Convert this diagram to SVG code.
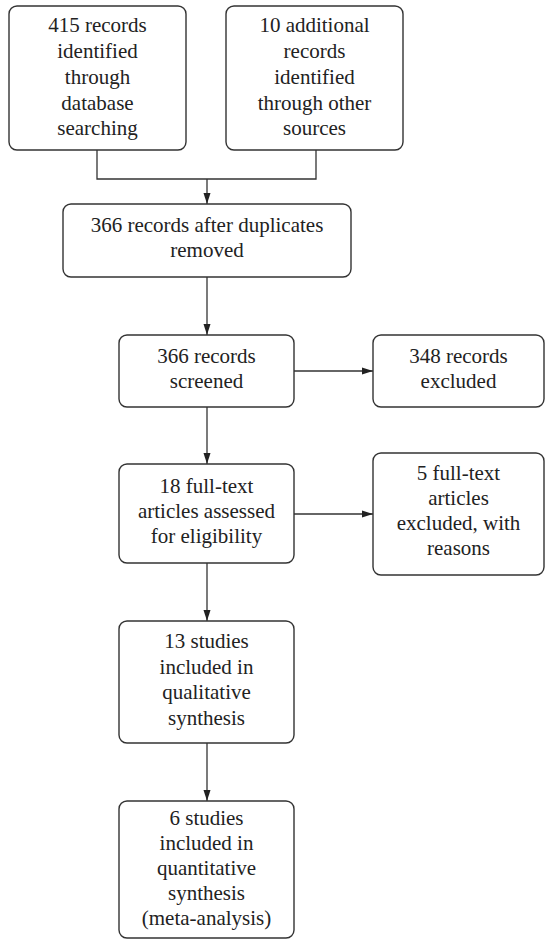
<svg xmlns="http://www.w3.org/2000/svg" width="545" height="940" viewBox="0 0 545 940">
<style>
.box{fill:#fff;stroke:#333;stroke-width:1.4}
.t{font-family:"Liberation Serif","Times New Roman",serif;font-size:21px;fill:#222;text-anchor:middle}
.c{fill:none;stroke:#333;stroke-width:1.3}
</style>
<defs>
<marker id="ah" markerUnits="userSpaceOnUse" markerWidth="12" markerHeight="8" refX="11" refY="4" orient="auto">
<path d="M0,0.5 L11,4 L0,7.5 z" fill="#222"/>
</marker>
</defs>
<rect width="545" height="940" fill="#fff"/>
<g id="connectors">
<polyline class="c" points="97,150 97,179 316,179 316,150"/>
<line class="c" x1="207" y1="179" x2="207" y2="204" marker-end="url(#ah)"/>
<line class="c" x1="207" y1="277" x2="207" y2="335" marker-end="url(#ah)"/>
<line class="c" x1="294" y1="371" x2="373" y2="371" marker-end="url(#ah)"/>
<line class="c" x1="207" y1="407" x2="207" y2="464" marker-end="url(#ah)"/>
<line class="c" x1="294" y1="514" x2="373" y2="514" marker-end="url(#ah)"/>
<line class="c" x1="207" y1="563" x2="207" y2="621" marker-end="url(#ah)"/>
<line class="c" x1="207" y1="743" x2="207" y2="801" marker-end="url(#ah)"/>
</g>
<g id="n1">
<rect class="box" x="9" y="6" width="177" height="144" rx="8"/>
<text class="t" x="97.5" y="32">415 records</text>
<text class="t" x="97.5" y="58">identified</text>
<text class="t" x="97.5" y="84">through</text>
<text class="t" x="97.5" y="110">database</text>
<text class="t" x="97.5" y="135">searching</text>
</g>
<g id="n2">
<rect class="box" x="226" y="6" width="177" height="144" rx="8"/>
<text class="t" x="314.5" y="32">10 additional</text>
<text class="t" x="314.5" y="58">records</text>
<text class="t" x="314.5" y="84">identified</text>
<text class="t" x="314.5" y="110">through other</text>
<text class="t" x="314.5" y="135">sources</text>
</g>
<g id="n3">
<rect class="box" x="63" y="204" width="288" height="73" rx="8"/>
<text class="t" x="207" y="232">366 records after duplicates</text>
<text class="t" x="207" y="257">removed</text>
</g>
<g id="n4">
<rect class="box" x="119" y="335" width="175" height="72" rx="8"/>
<text class="t" x="206.5" y="363">366 records</text>
<text class="t" x="206.5" y="388">screened</text>
</g>
<g id="n5">
<rect class="box" x="373" y="335" width="171" height="72" rx="8"/>
<text class="t" x="458.5" y="363">348 records</text>
<text class="t" x="458.5" y="388">excluded</text>
</g>
<g id="n6">
<rect class="box" x="119" y="464" width="175" height="99" rx="8"/>
<text class="t" x="206.5" y="493">18 full-text</text>
<text class="t" x="206.5" y="518">articles assessed</text>
<text class="t" x="206.5" y="543">for eligibility</text>
</g>
<g id="n7">
<rect class="box" x="373" y="453" width="171" height="122" rx="8"/>
<text class="t" x="458.5" y="480">5 full-text</text>
<text class="t" x="458.5" y="505">articles</text>
<text class="t" x="458.5" y="530">excluded, with</text>
<text class="t" x="458.5" y="555">reasons</text>
</g>
<g id="n8">
<rect class="box" x="119" y="621" width="175" height="122" rx="8"/>
<text class="t" x="206.5" y="648">13 studies</text>
<text class="t" x="206.5" y="674">included in</text>
<text class="t" x="206.5" y="699">qualitative</text>
<text class="t" x="206.5" y="725">synthesis</text>
</g>
<g id="n9">
<rect class="box" x="119" y="801" width="175" height="137" rx="8"/>
<text class="t" x="206.5" y="825">6 studies</text>
<text class="t" x="206.5" y="850">included in</text>
<text class="t" x="206.5" y="875">quantitative</text>
<text class="t" x="206.5" y="900">synthesis</text>
<text class="t" x="206.5" y="925">(meta-analysis)</text>
</g>
</svg>
